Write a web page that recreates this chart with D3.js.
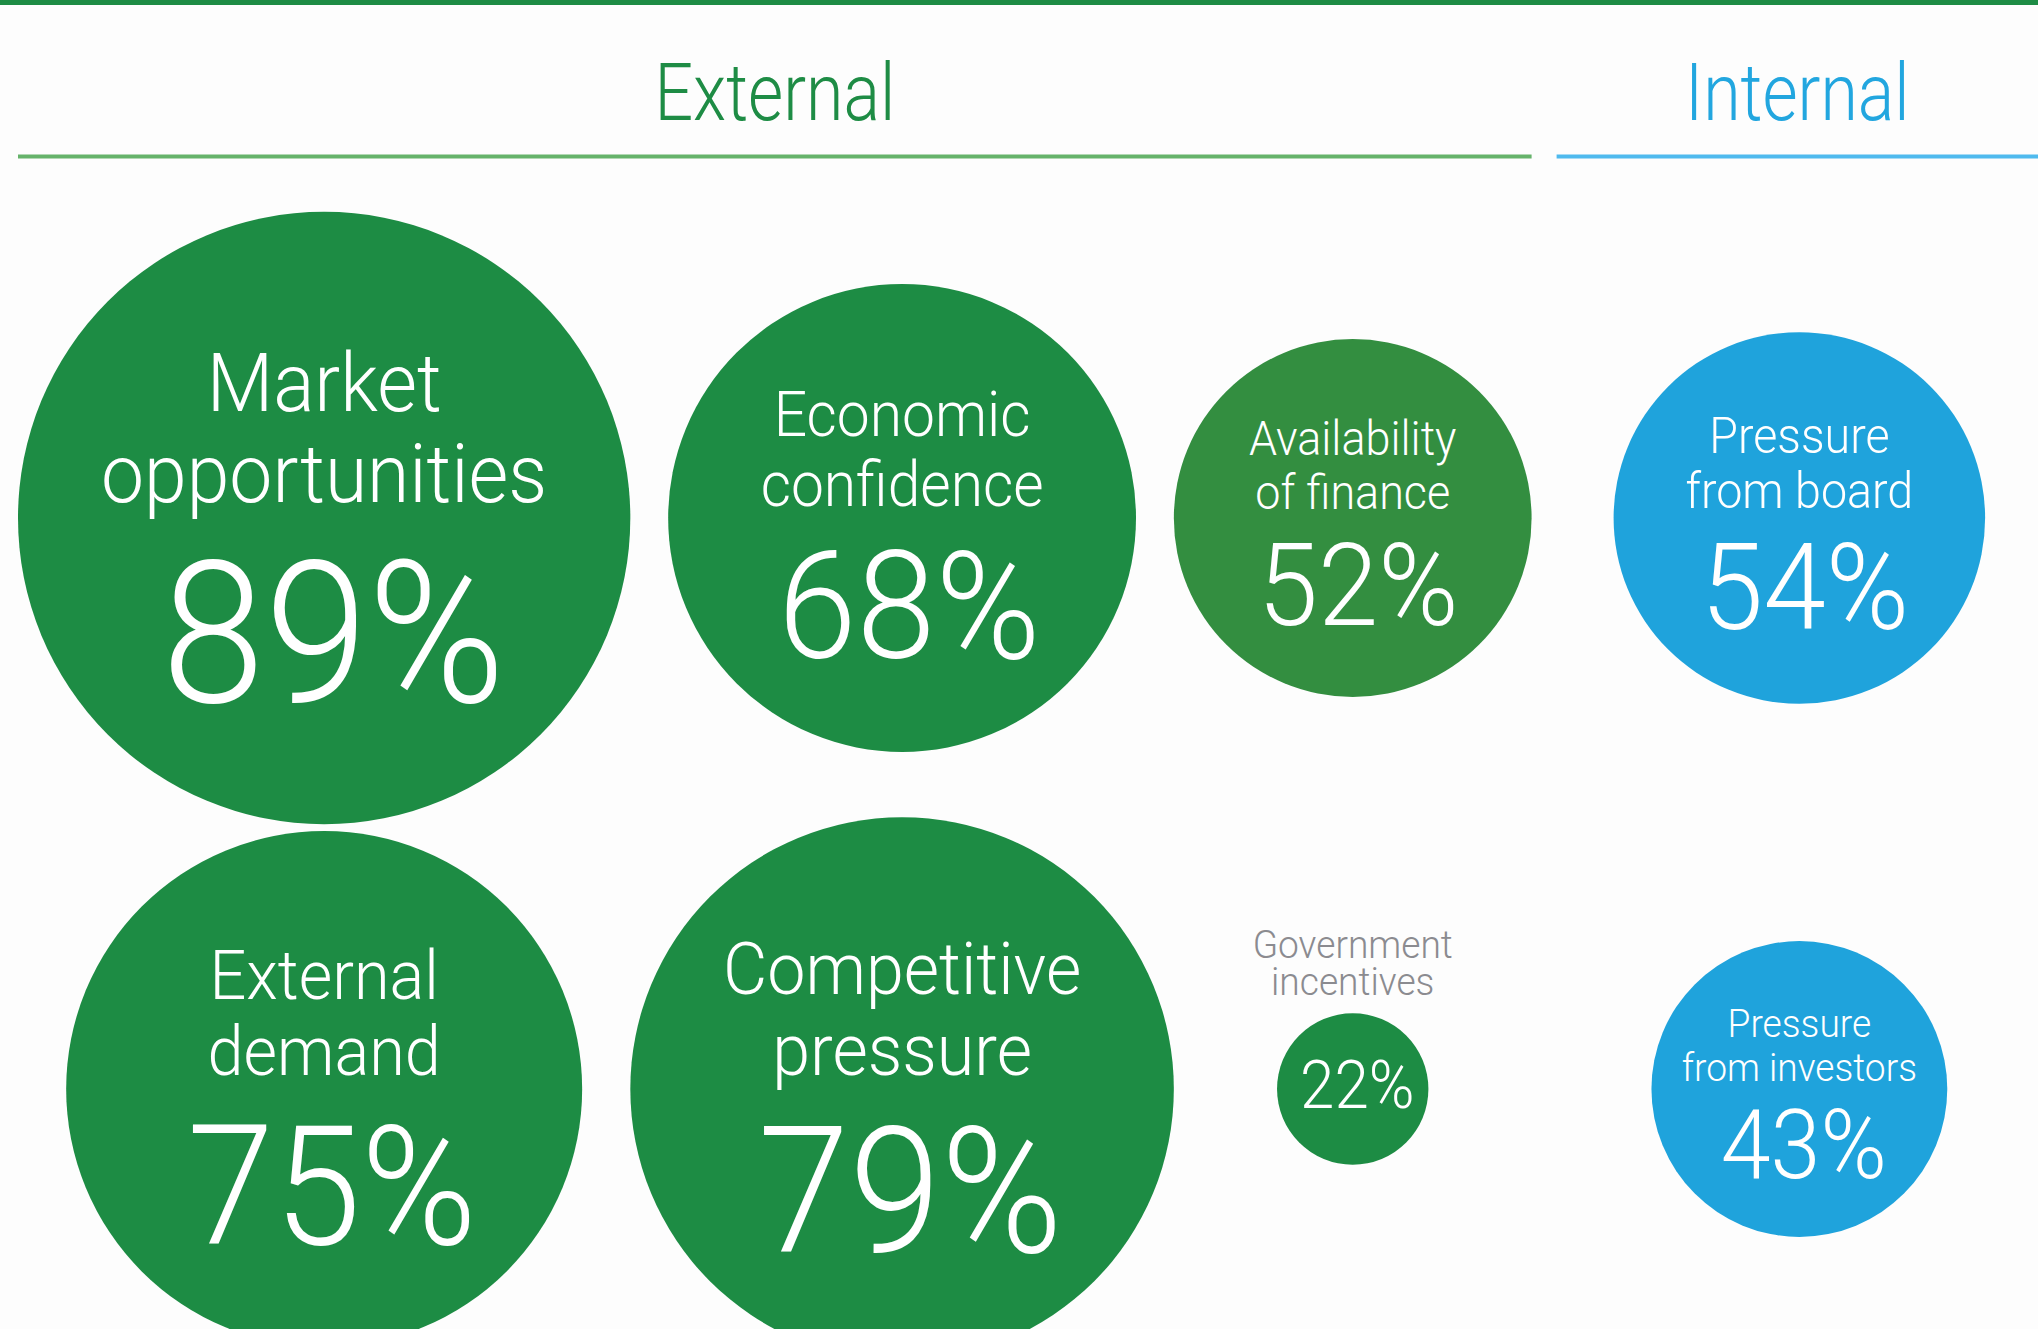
<!DOCTYPE html>
<html>
<head>
<meta charset="utf-8">
<script src="https://cdn.jsdelivr.net/npm/d3@7"></script>
<style>
  html, body { margin: 0; padding: 0; background: #fdfdfd; }
  svg { display: block; }
  text { font-family: Roboto, "Open Sans", "Noto Sans", sans-serif; font-weight: 300; }
</style>
</head>
<body>
<script>
// ---- data ----
const labels = [
  ["Market", "opportunities"],
  ["Economic", "confidence"],
  ["Availability", "of finance"],
  ["Pressure", "from board"],
  ["External", "demand"],
  ["Competitive", "pressure"],
  ["Government", "incentives"],
  ["Pressure", "from investors"]
];
const values = [89, 68, 52, 54, 75, 79, 22, 43];
const groups = ["External", "External", "External", "Internal", "External", "External", "External", "Internal"];
const columns = [0, 1, 2, 3, 0, 1, 2, 3];
const rows = [0, 0, 0, 0, 1, 1, 1, 1];
const groupNames = ["External", "Internal"];

// ---- setup ----
const W = 2038, H = 1329;
const margin = 18, groupGap = 82, headerGap = 25;
const svg = d3.select("body").append("svg").attr("width", W).attr("height", H);

const data = values.map((v, i) => ({
  lines: labels[i], value: v, group: groups[i], col: columns[i], row: rows[i]
}));

const rScale = d3.scaleLinear().domain([0, 100]).range([0, 344]);
const yScale = d3.scaleLinear().domain([0, 1]).range([518, 1089]);
const color = d3.scaleOrdinal().domain(groupNames).range(["#1d8c44", "#1fa3dc"]);
const textColor = d3.scaleOrdinal().domain(groupNames).range(["#1e8c45", "#22a6df"]);
const lineColor = d3.scaleOrdinal().domain(groupNames).range(["#66b36b", "#4fbaee"]);
const fillFor = d => d.lines.join(" ") === "Availability of finance" ? "#338e40" : color(d.group);

// pack columns horizontally by the widest circle in each column
const colIds = Array.from(new Set(columns)).sort((a, b) => a - b);
const colInfo = colIds.map(c => {
  const ds = data.filter(d => d.col === c);
  return { col: c, r: d3.max(ds, d => rScale(d.value)), group: ds[0].group };
});
let right = margin, prevGroup = null;
colInfo.forEach(ci => {
  if (prevGroup !== null && ci.group !== prevGroup) right += groupGap;
  ci.x = right + ci.r;
  right = ci.x + ci.r;
  prevGroup = ci.group;
});
const xOf = c => colInfo.find(ci => ci.col === c).x;

// ---- top bar ----
svg.append("rect").attr("x", 0).attr("y", 0).attr("width", W).attr("height", 5).attr("fill", "#1e8c45");

// ---- group headers ----
const headerExtents = groupNames.map(g => {
  const cs = colInfo.filter(ci => ci.group === g);
  return { group: g, x0: d3.min(cs, ci => ci.x - ci.r), x1: d3.max(cs, ci => ci.x + ci.r) };
});
headerExtents.forEach((h, i) => {
  if (i > 0) h.x0 = headerExtents[i - 1].x1 + headerGap;
  if (i === headerExtents.length - 1) h.x1 = W;
});
const hdr = svg.append("g").selectAll("g").data(headerExtents).join("g");
hdr.append("line")
  .attr("x1", d => d.x0).attr("x2", d => d.x1)
  .attr("y1", 156.5).attr("y2", 156.5)
  .attr("stroke", d => lineColor(d.group)).attr("stroke-width", 4);
hdr.append("text")
  .attr("transform", d => `translate(${(d.x0 + d.x1) / 2},120) scale(0.85,1)`)
  .attr("text-anchor", "middle")
  .attr("font-size", 80)
  .attr("fill", d => textColor(d.group))
  .text(d => d.group);

// ---- bubbles ----
const SX = 0.94;
const outsideFont = 39.5;
const node = svg.append("g").selectAll("g").data(data).join("g")
  .attr("transform", d => `translate(${xOf(d.col)},${yScale(d.row)})`);

node.append("circle")
  .attr("r", d => rScale(d.value))
  .attr("fill", fillFor);

node.each(function(d) {
  const g = d3.select(this);
  const r = rScale(d.value);
  if (r >= 100) {
    const fs = 0.267 * r;
    const lab = g.append("text")
      .attr("transform", `translate(0,${-0.35 * r}) scale(${SX},1)`)
      .attr("text-anchor", "middle")
      .attr("font-size", fs)
      .attr("fill", "#ffffff");
    d.lines.forEach((t, i) => {
      lab.append("tspan").attr("x", 0).attr("y", i * 0.297 * r).text(t);
    });
    g.append("text")
      .attr("transform", `translate(${0.03 * r},${0.60 * r}) scale(${SX},1)`)
      .attr("text-anchor", "middle")
      .attr("font-size", 0.646 * r)
      .attr("fill", "#ffffff")
      .text(d3.format("d")(d.value) + "%");
  } else {
    const n = d.lines.length;
    const lab = g.append("text")
      .attr("transform", `translate(0,${-r - 18 - (n - 1) * 37}) scale(${SX},1)`)
      .attr("text-anchor", "middle")
      .attr("font-size", outsideFont)
      .attr("fill", "#8b8b90");
    d.lines.forEach((t, i) => {
      lab.append("tspan").attr("x", 0).attr("y", i * 37).text(t);
    });
    g.append("text")
      .attr("transform", `translate(${0.06 * r},${0.25 * r}) scale(${SX},1)`)
      .attr("text-anchor", "middle")
      .attr("font-size", 0.87 * r)
      .attr("fill", "#ffffff")
      .text(d3.format("d")(d.value) + "%");
  }
});
</script>
</body>
</html>
